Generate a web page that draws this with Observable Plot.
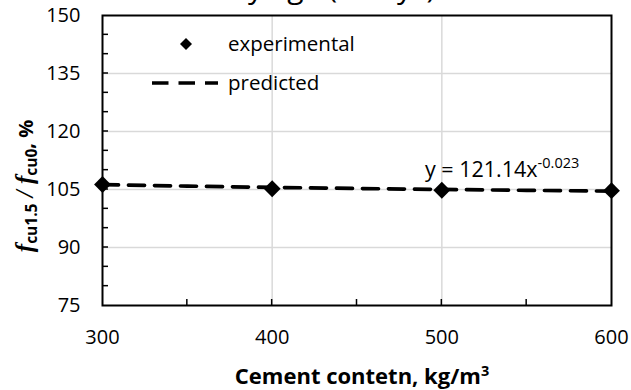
<!DOCTYPE html>
<html>
<head>
<meta charset="utf-8">
<script src="https://cdn.jsdelivr.net/npm/d3@7"></script>
<script src="https://cdn.jsdelivr.net/npm/@observablehq/plot@0.6"></script>
<style>
  html, body { margin: 0; padding: 0; background: #fff; }
  #chart { position: relative; width: 631px; height: 390px; overflow: hidden; }
  #chart svg { overflow: visible; }
</style>
</head>
<body>
<div id="chart"></div>
<script>
// Strength ratio f_cu1.5 / f_cu0 (%) against cement content (kg/m³)
const cementContent = [300, 400, 500, 600];
const experimental = [106.3, 105.2, 104.8, 104.7];

// Power-law trend y = 121.14 x^-0.023, sampled along the cement range
const predictedX = [300, 350, 400, 450, 500, 550, 600];
const predictedY = [106.25, 105.87, 105.55, 105.26, 105.01, 104.78, 104.57];

const xTicks = [300, 400, 500, 600];
const xMinorTicks = [350, 400, 450, 500, 550];
const yTicks = [75, 90, 105, 120, 135, 150];
const yMinorTicks = [80, 85, 90, 95, 100, 105, 110, 115, 120, 125, 130, 135, 140, 145];
const yGrid = [90, 105, 120, 135];
const xGrid = [400, 500];

const titleText = "Early age (3 days)";
const equationText = "y = 121.14x";
const equationExponent = "-0.023";
const legendLabels = ["experimental", "predicted"];

const sans = "'Open Sans', 'Liberation Sans', sans-serif";
const serif = "'Liberation Serif', 'DejaVu Serif', serif";

const expData = cementContent.map((c, i) => ({c, v: experimental[i]}));
const predData = predictedX.map((c, i) => ({c, v: predictedY[i]}));

const chart = Plot.plot({
  width: 631,
  height: 390,
  marginLeft: 102,
  marginRight: 20,
  marginTop: 15,
  marginBottom: 85,
  style: {fontFamily: sans, fontSize: "20px", color: "#000", background: "transparent"},
  x: {domain: [300, 600]},
  y: {domain: [75, 150]},
  marks: [
    Plot.gridY(yGrid, {stroke: "#d9d9d9", strokeOpacity: 1, strokeWidth: 1.5}),
    Plot.gridX(xGrid, {stroke: "#d9d9d9", strokeOpacity: 1, strokeWidth: 1.5}),
    // tick labels
    Plot.axisY({ticks: yTicks, tickSize: 0, tickPadding: 22, label: null, fontSize: 20}),
    Plot.axisX({ticks: xTicks, tickSize: 0, tickPadding: 24, label: null, fontSize: 20}),
    Plot.frame({stroke: "#000", strokeWidth: 2}),
    Plot.line(predData, {x: "c", y: "v", stroke: "#000", strokeWidth: 3.7, strokeDasharray: "16,10"}),
    Plot.dot(expData, {x: "c", y: "v", symbol: "diamond2", r: 7.6, fill: "#000", stroke: "none"})
  ]
});
document.getElementById("chart").appendChild(chart);

const svg = d3.select(chart);
const xs = chart.scale("x");
const ys = chart.scale("y");
const [left] = xs.range;
const [bottom] = ys.range;

// inward tick marks along the left and bottom axes
const ticks = svg.append("g").attr("stroke", "#000").attr("stroke-width", 1.5);
ticks.selectAll(".ty").data(yMinorTicks).join("line")
  .attr("x1", left).attr("x2", left + 6)
  .attr("y1", d => ys.apply(d)).attr("y2", d => ys.apply(d));
ticks.selectAll(".tx").data(xMinorTicks).join("line")
  .attr("x1", d => xs.apply(d)).attr("x2", d => xs.apply(d))
  .attr("y1", bottom).attr("y2", bottom - 6);

// title (runs off the top edge)
svg.append("text")
  .attr("x", 315).attr("y", -2)
  .attr("text-anchor", "middle")
  .attr("font-family", sans).attr("font-size", 30)
  .text(titleText);

// legend
svg.append("path")
  .attr("transform", "translate(186,44)")
  .attr("d", d3.symbol(d3.symbolDiamond2, Math.PI * 5.4 * 5.4)())
  .attr("fill", "#000");
svg.append("text")
  .attr("x", 228).attr("y", 44).attr("dy", "0.35em")
  .attr("text-anchor", "start")
  .attr("font-family", sans).attr("font-size", 20.5)
  .text(legendLabels[0]);
svg.append("line")
  .attr("x1", 152).attr("x2", 218).attr("y1", 83).attr("y2", 83)
  .attr("stroke", "#000").attr("stroke-width", 3.7).attr("stroke-dasharray", "16.5,10");
svg.append("text")
  .attr("x", 228).attr("y", 83).attr("dy", "0.35em")
  .attr("text-anchor", "start")
  .attr("font-family", sans).attr("font-size", 20.5)
  .text(legendLabels[1]);

// trend equation
const eq = svg.append("text")
  .attr("x", 425).attr("y", 177)
  .attr("text-anchor", "start")
  .attr("font-family", sans).attr("font-size", 21.5);
eq.append("tspan").text(equationText);
eq.append("tspan").attr("font-size", 14.5).attr("dy", -9).text(equationExponent);

// x-axis title
const xl = svg.append("text")
  .attr("x", 362).attr("y", 384)
  .attr("text-anchor", "middle")
  .attr("font-family", sans).attr("font-size", 22).attr("font-weight", "bold");
xl.append("tspan").text("Cement contetn, kg/m");
xl.append("tspan").attr("font-size", 14.5).attr("dy", -8).text("3");

// y-axis title with subscripts
const yl = svg.append("text")
  .attr("transform", "translate(33,186) rotate(-90)")
  .attr("text-anchor", "middle")
  .attr("font-family", sans).attr("font-size", 20).attr("font-weight", "bold");
yl.append("tspan").attr("font-family", serif).attr("font-style", "italic").attr("font-size", 25).text("f");
yl.append("tspan").attr("font-size", 15.5).attr("dy", 4).text("cu1.5");
yl.append("tspan").attr("dy", -4).attr("font-family", serif).attr("font-style", "italic").attr("font-size", 25).text(" / f");
yl.append("tspan").attr("font-size", 15.5).attr("dy", 4).text("cu0");
yl.append("tspan").attr("dy", -4).text(", %");
</script>
</body>
</html>
